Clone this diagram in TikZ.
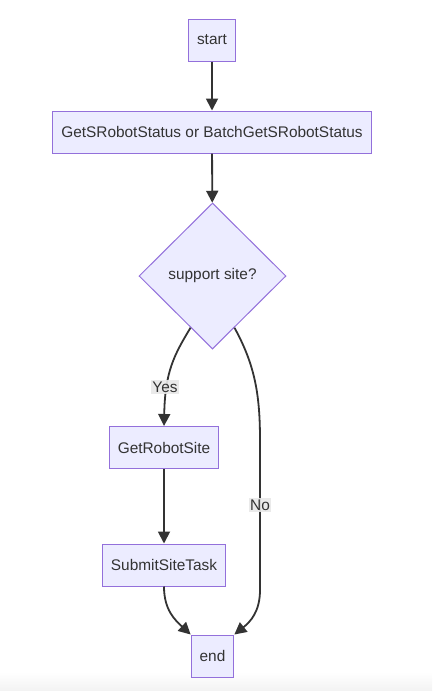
\documentclass[tikz,border=0pt]{standalone}
\usepackage{xcolor}
\usepackage{fontspec}
\setmainfont{Liberation Sans}
\usepackage{tikz}
\usetikzlibrary{arrows.meta,shapes.geometric}
\definecolor{boxfill}{HTML}{ECECFF}
\definecolor{boxline}{HTML}{9370DB}
\definecolor{ink}{HTML}{333333}
\definecolor{lblfill}{HTML}{E8E8E8}

\begin{document}
\begin{tikzpicture}[x=1pt,y=1pt,font=\fontsize{15.4}{18}\selectfont,
    every node/.style={text=ink},
    box/.style={draw=boxline,fill=boxfill,line width=1pt,minimum height=42pt,inner xsep=8.5pt},
    decision/.style={diamond,draw=boxline,fill=boxfill,line width=1pt,minimum width=147pt,minimum height=146pt,inner sep=0pt},
    lbl/.style={fill=lblfill,fill opacity=0.9,text opacity=1,inner sep=1.5pt},
    conn/.style={draw=ink,line width=1.8pt,-{Triangle[length=12pt 0 0,width=12pt 0 0]}}]
    \useasboundingbox (0,0) rectangle (432,-691);
    \shade[top color=white,bottom color=black!5] (0,-672) rectangle (432,-691);
    \node[box] (start) at (212,-40) {start};
    \node[box] (stat) at (212,-132) {GetSRobotStatus or BatchGetSRobotStatus};
    \node[decision] (dec) at (212.5,-276) {support site?};
    \node[box] (site) at (164,-447.5) {GetRobotSite};
    \node[box] (task) at (164,-565) {SubmitSiteTask};
    \node[box] (end) at (212.5,-656) {end};
    \draw[conn] (start) -- (stat);
    \draw[conn] (stat) -- (dec);
    \draw[conn] (dec.-113) .. controls (174,-355) and (165,-372) .. (site.north);
    \draw[conn] (site) -- (task);
    \draw[conn] (dec.-67) .. controls (255,-365) and (260,-395) .. (260,-440) -- (260,-590)
      .. controls (260,-612) and (250,-622) .. (end.north east);
    \draw[conn] (task.south) .. controls (164,-610) and (175,-620) .. (end.north west);
    \node[lbl] (yes) at (165,-387) {Yes};
    \node[lbl] (no) at (260,-505) {No};
  \end{tikzpicture}
\end{document}
